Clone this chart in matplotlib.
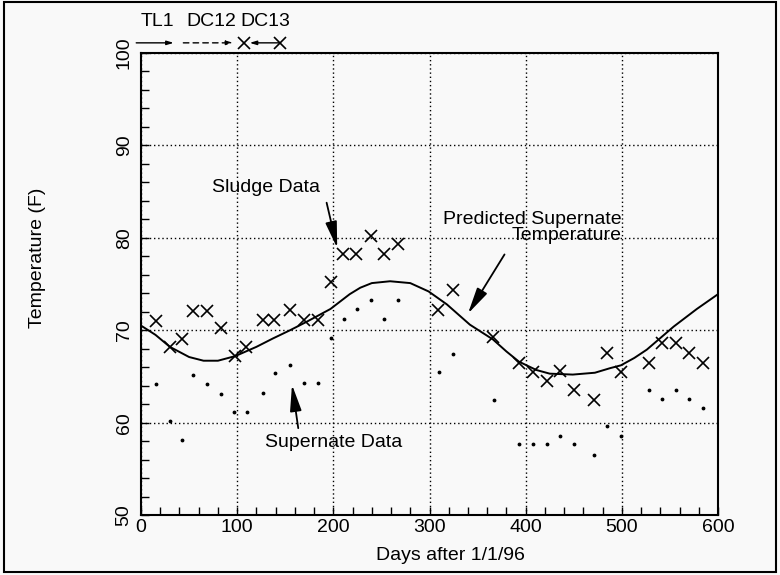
import matplotlib
matplotlib.use("Agg")
import matplotlib.pyplot as plt
from matplotlib.patches import Rectangle
from matplotlib.ticker import MultipleLocator

plt.rcParams['font.family'] = ['Liberation Sans', 'DejaVu Sans']

# sludge samples (x markers)
sludge_days = [16, 30, 43, 54, 69, 83, 98, 109, 127, 138, 155, 170, 184,
               198, 210, 224, 239, 253, 267, 309, 324, 366, 393, 408, 422,
               436, 450, 471, 485, 499, 528, 542, 556, 570, 584]
sludge_temp = [71.0, 68.2, 69.1, 72.1, 72.1, 70.2, 67.2, 68.2, 71.1, 71.1,
               72.2, 71.1, 71.1, 75.2, 78.2, 78.2, 80.2, 78.2, 79.3, 72.2,
               74.3, 69.3, 66.4, 65.5, 64.5, 65.6, 63.5, 62.5, 67.5, 65.5,
               66.4, 68.6, 68.6, 67.5, 66.4]

# supernate samples (dots)
super_days = [16, 30, 43, 54, 69, 83, 97, 110, 127, 139, 155, 170, 184,
              198, 211, 225, 239, 253, 267, 310, 324, 367, 393, 408, 422,
              436, 450, 471, 485, 499, 528, 542, 556, 570, 584]
super_temp = [64.2, 60.2, 58.1, 65.2, 64.2, 63.1, 61.2, 61.2, 63.2, 65.4,
              66.2, 64.3, 64.3, 69.2, 71.2, 72.3, 73.3, 71.2, 73.3, 65.5,
              67.4, 62.5, 57.7, 57.7, 57.7, 58.6, 57.7, 56.5, 59.6, 58.6,
              63.5, 62.6, 63.5, 62.6, 61.6]

# predicted supernate temperature
pred_days = [0, 15, 30, 50, 65, 80, 98, 120, 137, 155, 172, 197, 217, 228,
             240, 259, 280, 299, 318, 342, 366, 380, 393, 411, 425, 449,
             472, 488, 499, 513, 526, 554, 578, 600]
pred_temp = [70.5, 69.5, 68.2, 67.1, 66.7, 66.7, 67.2, 68.2, 69.1, 70.0,
             70.9, 72.3, 73.9, 74.6, 75.1, 75.3, 75.1, 74.2, 72.8, 70.6,
             69.0, 67.7, 66.6, 65.7, 65.3, 65.2, 65.4, 65.9, 66.2, 67.0,
             67.9, 70.4, 72.3, 73.9]

# operating periods shown above the plot
periods = ["TL1", "DC12", "DC13"]
period_start = [-5, 44, 107]
period_end = [34, 96, 145]

fig = plt.figure(figsize=(7.8, 5.75), dpi=100)
fig.patch.set_facecolor('#f9f9f9')
ax = fig.add_axes([0.1808, 0.1043, 0.7397, 0.8035])
ax.set_facecolor('#f9f9f9')

ax.plot(pred_days, pred_temp, color='k', lw=1.4)
ax.plot(sludge_days, sludge_temp, 'x', color='k', ms=9, mew=1.2)
ax.plot(super_days, super_temp, '.', color='k', ms=3.5)

ax.set_xlim(0, 600)
ax.set_ylim(50, 100)
ax.xaxis.set_major_locator(MultipleLocator(100))
ax.xaxis.set_minor_locator(MultipleLocator(20))
ax.yaxis.set_major_locator(MultipleLocator(10))
ax.yaxis.set_minor_locator(MultipleLocator(2))
ax.grid(True, which='major', color='k', lw=1.0, ls=(0, (1, 2)))
ax.tick_params(which='both', direction='in', length=6, width=1.0,
               top=False, right=False, labelsize=14)
ax.tick_params(axis='x', pad=3)
ax.tick_params(axis='y', labelrotation=90, pad=6)
for lab in ax.get_yticklabels():
    lab.set_va('center')
for sp in ax.spines.values():
    sp.set_linewidth(1.5)

fig.text(38 / 780, 1 - 258 / 575, "Temperature (F)", rotation=90,
         ha='center', va='center', fontsize=14)
fig.text(450 / 780, 1 - 555 / 575, "Days after 1/1/96",
         ha='center', va='center', fontsize=14)

# callouts
arrow = dict(arrowstyle='-|>,head_width=0.35,head_length=1.6',
             color='k', lw=1.3, shrinkA=0, shrinkB=0)
ax.text(130, 85.4, "Sludge Data", ha='center', va='center', fontsize=14)
ax.annotate("", xy=(204, 78.9), xytext=(193, 83.8), arrowprops=arrow)

ax.text(500, 81.1, "Predicted Supernate\nTemperature", ha='right',
        va='center', fontsize=14, linespacing=0.95)
ax.annotate("", xy=(340, 71.8), xytext=(378, 78.2), arrowprops=arrow)

ax.text(200, 57.9, "Supernate Data", ha='center', va='center', fontsize=14)
ax.annotate("", xy=(157, 64.1), xytext=(163.5, 59.4), arrowprops=arrow)

# period bars above the axes
small = dict(arrowstyle='-|>,head_width=0.12,head_length=0.4', color='k',
             lw=1.0, shrinkA=0, shrinkB=0)
ybar = 101.1
ax.annotate("", xy=(period_end[0], ybar), xytext=(period_start[0], ybar),
            arrowprops=small, annotation_clip=False)
ax.annotate("", xy=(period_end[1], ybar), xytext=(period_start[1], ybar),
            arrowprops=dict(small, linestyle=(0, (4, 3))),
            annotation_clip=False)
ax.annotate("", xy=(period_start[2] + 6, ybar), xytext=(period_end[2], ybar),
            arrowprops=small, annotation_clip=False)
ax.plot([period_start[2], period_end[2]], [ybar, ybar], 'x', color='k',
        ms=9, mew=1.2, clip_on=False)
for name, s, e in zip(periods, period_start, period_end):
    ax.text((s + e) / 2 + 3, 103.4, name, ha='center', va='center',
            fontsize=14, clip_on=False)

fig.add_artist(Rectangle((0.005, 0.006), 0.99, 0.99,
                         transform=fig.transFigure, fill=False, lw=1.5,
                         ec='k'))

fig.savefig("out.png", dpi=100, facecolor=fig.get_facecolor())
